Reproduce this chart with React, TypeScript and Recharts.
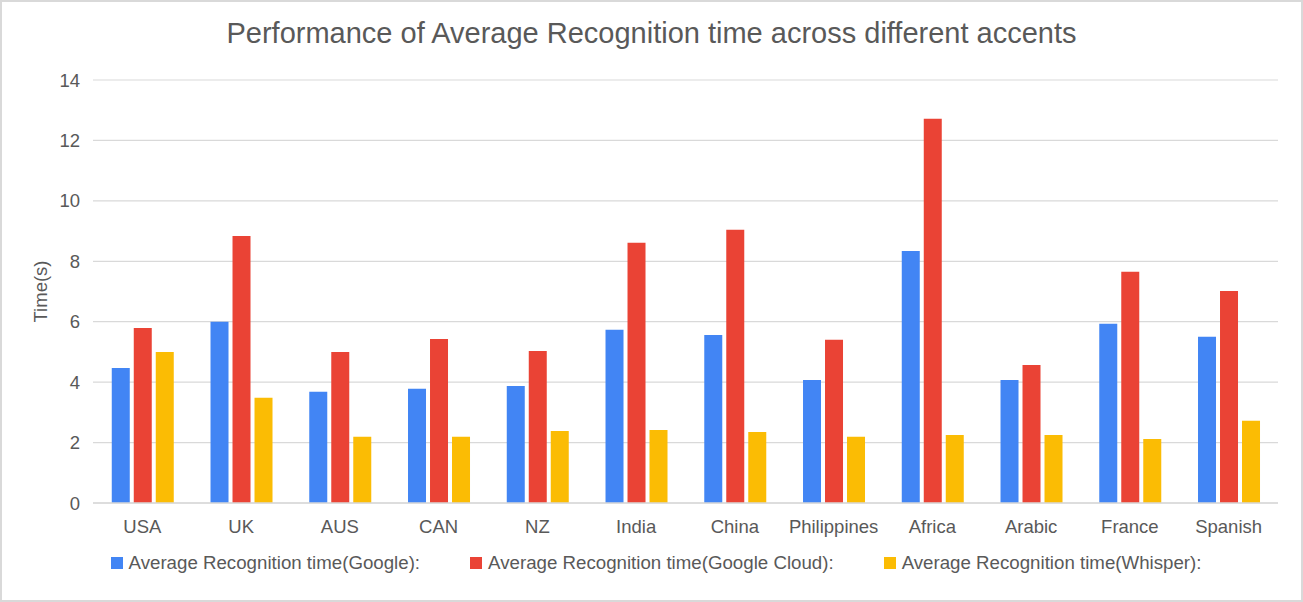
import {
  Bar,
  BarChart,
  CartesianGrid,
  Legend,
  XAxis,
  YAxis,
} from "recharts";

const accents = ["USA", "UK", "AUS", "CAN", "NZ", "India", "China", "Philippines", "Africa", "Arabic", "France", "Spanish"];
const googleTimes = [4.47, 6.0, 3.68, 3.78, 3.87, 5.73, 5.56, 4.07, 8.34, 4.07, 5.93, 5.5];
const cloudTimes = [5.79, 8.84, 5.0, 5.43, 5.03, 8.61, 9.04, 5.4, 12.72, 4.57, 7.65, 7.02];
const whisperTimes = [5.0, 3.48, 2.19, 2.19, 2.38, 2.42, 2.35, 2.19, 2.25, 2.25, 2.12, 2.72];
const yTicks = [0, 2, 4, 6, 8, 10, 12, 14];

const series = [
  { key: "google", name: "Average Recognition time(Google):", color: "#4285F4" },
  { key: "cloud", name: "Average Recognition time(Google Cloud):", color: "#EA4335" },
  { key: "whisper", name: "Average Recognition time(Whisper):", color: "#FBBC04" },
];

const data = accents.map((accent, i) => ({
  accent,
  google: googleTimes[i],
  cloud: cloudTimes[i],
  whisper: whisperTimes[i],
}));

const FONT = "'Liberation Sans', Arial, sans-serif";
const TEXT = "#595959";

const LegendRow = () => (
  <div
    style={{
      display: "flex",
      justifyContent: "center",
      alignItems: "flex-start",
      height: 50,
      boxSizing: "border-box",
      fontFamily: FONT,
      fontSize: 18.7,
      color: TEXT,
    }}
  >
    <div style={{ display: "flex", alignItems: "center", height: 22, marginLeft: 34 }}>
      {series.map((s, i) => (
        <div key={s.key} style={{ display: "flex", alignItems: "center", marginLeft: i === 0 ? 0 : 50 }}>
          <span style={{ width: 12, height: 12, background: s.color, marginRight: 6, display: "inline-block" }} />
          <span>{s.name}</span>
        </div>
      ))}
    </div>
  </div>
);

const YLabel = ({ viewBox }: any) => {
  const cx = viewBox.x + 40;
  const cy = viewBox.y + viewBox.height / 2;
  return (
    <text
      x={cx}
      y={cy}
      transform={`rotate(-90 ${cx} ${cy})`}
      textAnchor="middle"
      dominantBaseline="central"
      fontFamily={FONT}
      fontSize={18.5}
      fill={TEXT}
    >
      Time(s)
    </text>
  );
};

const App = () => {
  return (
    <div style={{ position: "absolute", left: 0, top: 0, width: 1303, height: 602, background: "#fff", fontFamily: FONT }}>
      <BarChart
        width={1303}
        height={602}
        data={data}
        margin={{ top: 80, right: 25, left: 0, bottom: 0 }}
        barCategoryGap="19%"
        barGap={4}
      >
        <CartesianGrid vertical={false} stroke="#d9d9d9" strokeWidth={1.2} />
        <XAxis
          dataKey="accent"
          height={49}
          tickLine={false}
          tickMargin={11}
          axisLine={{ stroke: "#d9d9d9", strokeWidth: 1.5 }}
          tick={{ fill: TEXT, fontSize: 18.5, fontFamily: FONT }}
          interval={0}
        />
        <YAxis
          width={93}
          domain={[0, 14]}
          ticks={yTicks}
          tickLine={false}
          axisLine={false}
          tickMargin={7}
          tick={{ fill: TEXT, fontSize: 18.5, fontFamily: FONT }}
          label={<YLabel />}
        />
        <Legend verticalAlign="bottom" content={<LegendRow />} />
        {series.map((s) => (
          <Bar key={s.key} dataKey={s.key} name={s.name} fill={s.color} isAnimationActive={false} />
        ))}
      </BarChart>
      <div
        style={{
          position: "absolute",
          left: 0,
          top: 18,
          width: 1303,
          textAlign: "center",
          fontSize: 29,
          color: TEXT,
          fontFamily: FONT,
          lineHeight: "30px",
          pointerEvents: "none",
        }}
      >
        Performance of Average Recognition time across different accents
      </div>
      <div
        style={{
          position: "absolute",
          inset: 0,
          border: "2px solid #d9d9d9",
          pointerEvents: "none",
        }}
      />
    </div>
  );
};

export default App;
